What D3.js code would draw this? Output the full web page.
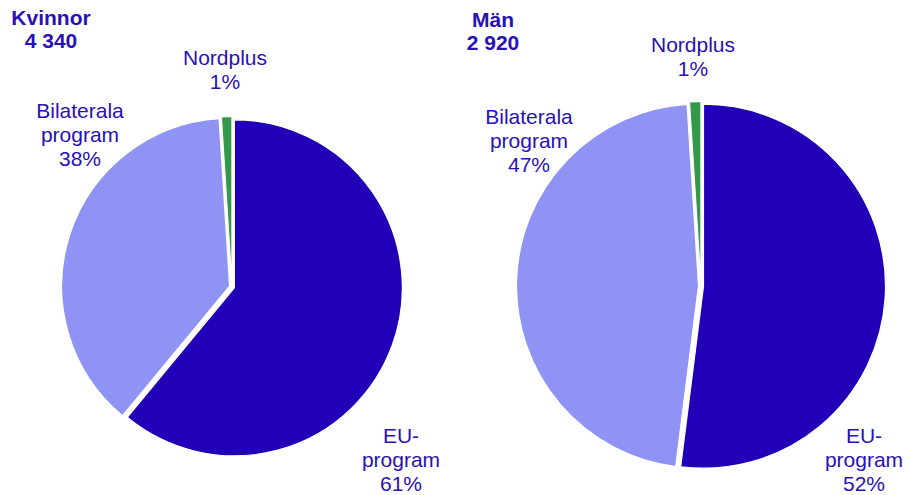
<!DOCTYPE html>
<html>
<head>
<meta charset="utf-8">
<script src="https://cdn.jsdelivr.net/npm/d3@7"></script>
<style>
  body { margin: 0; background: #fff; }
  svg { display: block; }
  text { font-family: "Liberation Sans", Arial, sans-serif; font-size: 21px; fill: #2a10b8; }
</style>
</head>
<body>
<svg id="chart" width="910" height="495"></svg>
<script>
// Andel per programtyp, procent
var categories = ['EU-program', 'Bilaterala program', 'Nordplus'],
    groups = ['Kvinnor', 'Män'],
    totals = ['4 340', '2 920'],
    kvinnorValues = [61, 38, 1],
    manValues = [52, 47, 1];

var colors = d3.scaleOrdinal()
    .domain(categories)
    .range(['#2200b8', '#8f94f4', '#33994a']);

var svg = d3.select('#chart');

// layout per pie: centre, radius, title position, label positions (line 1 baseline)
var layouts = [
    {cx: 232, cy: 287, r: 168, title: [51, 25],
     labels: [[401, 443, ['EU-', 'program']], [80, 118, ['Bilaterala', 'program']], [225, 65, ['Nordplus']]]},
    {cx: 701, cy: 286, r: 182, title: [493, 27],
     labels: [[864, 443, ['EU-', 'program']], [529, 124, ['Bilaterala', 'program']], [693, 52, ['Nordplus']]]}
];

var lineH = 24,
    explode = 2.5;

var pie = d3.pie().sort(null).value(function(d) { return d; }),
    allValues = [kvinnorValues, manValues];

allValues.forEach(function(values, gi) {
    var L = layouts[gi],
        arc = d3.arc().innerRadius(0).outerRadius(L.r),
        g = svg.append('g').attr('transform', 'translate(' + L.cx + ',' + L.cy + ')');

    g.selectAll('path')
        .data(pie(values))
      .enter().append('path')
        .attr('d', arc)
        .attr('transform', function(d) {
            var mid = (d.startAngle + d.endAngle) / 2;
            return 'translate(' + (explode * Math.sin(mid)) + ',' + (-explode * Math.cos(mid)) + ')';
        })
        .style('fill', function(d, i) { return colors(categories[i]); })
        .style('stroke', '#fff')
        .style('stroke-width', 1.2);

    // title
    var t = svg.append('text')
        .attr('x', L.title[0]).attr('y', L.title[1])
        .attr('text-anchor', 'middle')
        .style('font-weight', 'bold');
    t.append('tspan').attr('x', L.title[0]).text(groups[gi]);
    t.append('tspan').attr('x', L.title[0]).attr('dy', lineH - 1).text(totals[gi]);

    // labels
    L.labels.forEach(function(lab, i) {
        var lines = lab[2].concat([values[i] + '%']),
            txt = svg.append('text')
                .attr('x', lab[0]).attr('y', lab[1])
                .attr('text-anchor', 'middle');
        lines.forEach(function(s, li) {
            txt.append('tspan')
                .attr('x', lab[0])
                .attr('dy', li ? lineH : 0)
                .text(s);
        });
    });
});
</script>
</body>
</html>
